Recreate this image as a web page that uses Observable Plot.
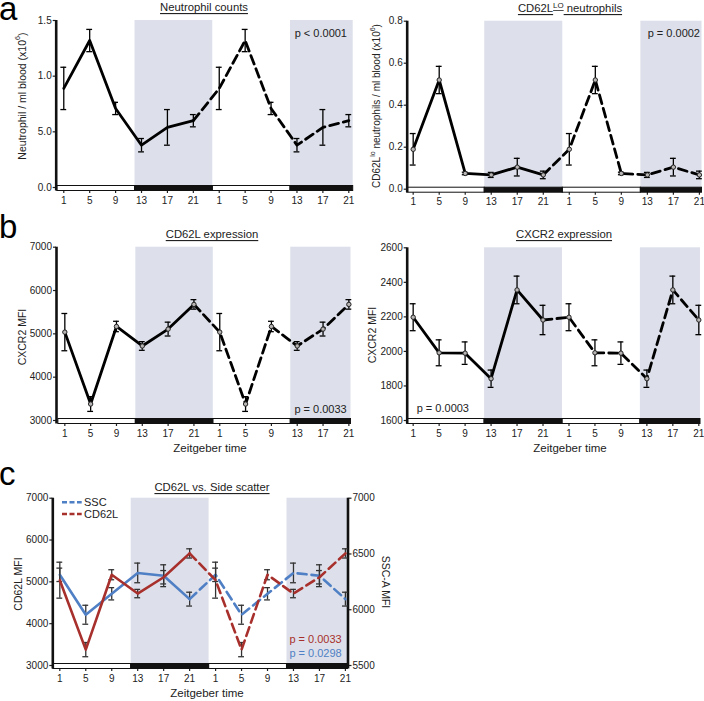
<!DOCTYPE html>
<html><head><meta charset="utf-8">
<script src="https://cdn.jsdelivr.net/npm/d3@7"></script>
<script src="https://cdn.jsdelivr.net/npm/@observablehq/plot@0.6"></script>
<style>
body{margin:0;background:#fff;font-family:"Liberation Sans",Arial,sans-serif;}
#root{position:relative;width:704px;height:701px;overflow:hidden;background:#fff;}
#root svg{position:absolute;}
.letter{position:absolute;left:-1px;font-size:33px;line-height:16px;height:16px;color:#000;font-family:"Liberation Sans",Arial,sans-serif;z-index:2;}
</style></head><body><div id="root"></div>
<script>
// ---------- data ----------
const ZT = [1, 5, 9, 13, 17, 21];
const dayOffsets = [0, 24];
const xTicks = [1, 5, 9, 13, 17, 21, 25, 29, 33, 37, 41, 45];
const xTickLabels = ["1", "5", "9", "13", "17", "21", "1", "5", "9", "13", "17", "21"];
const darkPhases = [{start: 12, end: 24}, {start: 36, end: 48}];
const lightPhases = [{start: 0, end: 12}, {start: 24, end: 36}];

// a: neutrophil counts (x10^6 / ml)
const neutMean = [0.89, 1.32, 0.71, 0.38, 0.54, 0.60];
const neutSem  = [0.19, 0.10, 0.055, 0.06, 0.16, 0.055];
const neutYTicks = [0, 0.5, 1.0, 1.5];
const neutYLabels = ["0.0", "5.0", "1.0", "1.5"];

// a: CD62L lo neutrophils
const loMean = [0.19, 0.52, 0.075, 0.068, 0.105, 0.068];
const loSem  = [0.075, 0.065, 0.006, 0.012, 0.042, 0.018];
const loYTicks = [0, 0.2, 0.4, 0.6, 0.8];
const loYLabels = ["0.0", "0.2", "0.4", "0.6", "0.8"];

// b: CD62L expression (MFI)
const cd62Mean = [5040, 3380, 5170, 4720, 5110, 5680];
const cd62Sem  = [430, 170, 120, 100, 160, 110];
const cd62YTicks = [3000, 4000, 5000, 6000, 7000];
const cd62YLabels = ["3000", "4000", "5000", "6000", "7000"];

// b: CXCR2 expression (MFI)
const cxcrMean = [2198, 1992, 1990, 1842, 2356, 2182];
const cxcrSem  = [78, 75, 65, 50, 80, 85];
const cxcrYTicks = [1600, 1800, 2000, 2200, 2400, 2600];
const cxcrYLabels = ["1600", "1800", "2000", "2200", "2400", "2600"];

// c: side scatter (SSC-A MFI)
const sscMean = [6313, 5955, 6143, 6330, 6305, 6095];
const sscSem  = [60, 85, 55, 88, 98, 62];
const sscYTicks = [5500, 6000, 6500, 7000];
const sscYLabels = ["5500", "6000", "6500", "7000"];

// panel letters
const panelLetters = [{letter: "a", top: 1.1}, {letter: "b", top: 218.6}, {letter: "c", top: 465.6}];

// ---------- helpers ----------
const FONT = "Liberation Sans, Arial, Helvetica, sans-serif";
const SHADE = "#dde0ea";
const BLUE = "#4f7fc4";
const RED = "#a8302c";
const root = document.getElementById("root");

function rowsOf(mean, sem, map = v => v, smap = v => v) {
  const rows = [];
  dayOffsets.forEach((off, di) => ZT.forEach((z, i) => rows.push({zt: z + off, m: map(mean[i]), s: smap(sem[i]), day: di})));
  return rows;
}

function seriesMarks(rows, {color = "#000", err = "#000", width = 2.8, dots = true, cap = 0.45} = {}) {
  const day1 = rows.filter(r => r.day === 0);
  const day2 = [day1[day1.length - 1], ...rows.filter(r => r.day === 1)];
  const m = [
    Plot.ruleX(rows, {x: "zt", y1: d => d.m - d.s, y2: d => d.m + d.s, stroke: err, strokeWidth: 1.3}),
    Plot.ruleY(rows, {y: d => d.m + d.s, x1: d => d.zt - cap, x2: d => d.zt + cap, stroke: err, strokeWidth: 1.3}),
    Plot.ruleY(rows, {y: d => d.m - d.s, x1: d => d.zt - cap, x2: d => d.zt + cap, stroke: err, strokeWidth: 1.3}),
    Plot.line(day1, {x: "zt", y: "m", stroke: color, strokeWidth: width}),
    Plot.line(day2, {x: "zt", y: "m", stroke: color, strokeWidth: width, strokeDasharray: "9,5"})
  ];
  if (dots) m.push(Plot.dot(rows, {x: "zt", y: "m", r: 2.2, fill: "#b9b5b5", stroke: "#222", strokeWidth: 1}));
  return m;
}

function panel(cfg) {
  const {left, top, width, height, frame, xDomain, yDomain, yTicks, yLabels, series, rightAxis} = cfg;
  const plotH = frame.b - frame.t;
  const upp = (yDomain[1] - yDomain[0]) / plotH;
  const barTop = yDomain[0] + 1.5 * upp, barBot = yDomain[0] - 3.5 * upp;
  const yFmt = new Map(yTicks.map((t, i) => [t, yLabels[i]]));
  const xFmt = new Map(xTicks.map((t, i) => [t, xTickLabels[i]]));
  const clampX1 = d => Math.max(d.start, xDomain[0]);
  const clampX2 = d => Math.min(d.end, xDomain[1]);
  const marks = [
    Plot.rect(darkPhases, {x1: clampX1, x2: clampX2, y1: yDomain[0], y2: yDomain[1], fill: SHADE}),
    Plot.axisX(xTicks, {tickFormat: d => xFmt.get(d), tickSize: 6, tickPadding: 3, fontSize: 10, label: null, strokeWidth: 1.2}),
    Plot.axisY(yTicks, {tickFormat: d => yFmt.get(d), tickSize: 3, tickPadding: 1.5, fontSize: 10, label: null, strokeWidth: 1.2}),
  ];
  if (rightAxis) {
    const rFmt = new Map(rightAxis.ticks.map((t, i) => [t, rightAxis.labels[i]]));
    marks.push(Plot.axisY(rightAxis.ticks, {anchor: "right", tickFormat: d => rFmt.get(d), tickSize: 3, tickPadding: 1.5, fontSize: 10, label: null, strokeWidth: 1.2}));
  }
  marks.push(
    Plot.rect(lightPhases, {x1: clampX1, x2: clampX2, y1: barBot, y2: barTop, fill: "#fff", stroke: "#111", strokeWidth: 1}),
    Plot.rect(darkPhases, {x1: clampX1, x2: clampX2, y1: barBot, y2: barTop, fill: "#111", stroke: "#111", strokeWidth: 1}),
    Plot.ruleX([xDomain[0]], {y1: barBot, y2: yDomain[1], strokeWidth: 2.6, stroke: "#111"})
  );
  if (rightAxis) marks.push(Plot.ruleX([xDomain[1]], {y1: barBot, y2: yDomain[1], strokeWidth: 2.6, stroke: "#111"}));
  marks.push(...series);
  const svg = Plot.plot({
    width, height,
    marginLeft: frame.l - left, marginRight: left + width - frame.r,
    marginTop: frame.t - top, marginBottom: top + height - frame.b,
    x: {type: "linear", domain: xDomain},
    y: {type: "linear", domain: yDomain},
    style: {fontFamily: FONT, fontSize: "10px", color: "#222", background: "transparent", overflow: "visible"},
    marks
  });
  svg.style.left = left + "px";
  svg.style.top = top + "px";
  root.appendChild(svg);
}

// ---------- panels ----------
panel({
  left: 0, top: 0, width: 360, height: 215,
  frame: {l: 55.7, r: 352.7, t: 20, b: 187},
  xDomain: [-0.17, 45.68], yDomain: [0, 1.5], yTicks: neutYTicks, yLabels: neutYLabels,
  series: seriesMarks(rowsOf(neutMean, neutSem), {dots: false})
});
panel({
  left: 350, top: 0, width: 354, height: 215,
  frame: {l: 406.7, r: 701.5, t: 20.7, b: 188.7},
  xDomain: [0.08, 45.4], yDomain: [0, 0.8], yTicks: loYTicks, yLabels: loYLabels,
  series: seriesMarks(rowsOf(loMean, loSem))
});
panel({
  left: 0, top: 230, width: 360, height: 215,
  frame: {l: 56, r: 350.5, t: 246.7, b: 420},
  xDomain: [-0.29, 45.33], yDomain: [3000, 7000], yTicks: cd62YTicks, yLabels: cd62YLabels,
  series: seriesMarks(rowsOf(cd62Mean, cd62Sem))
});
panel({
  left: 350, top: 230, width: 354, height: 215,
  frame: {l: 406.7, r: 700, t: 247.3, b: 420},
  xDomain: [0.08, 45.26], yDomain: [1600, 2600], yTicks: cxcrYTicks, yLabels: cxcrYLabels,
  series: seriesMarks(rowsOf(cxcrMean, cxcrSem))
});
// panel c: dual axis, SSC mapped onto the CD62L scale
const sscToLeft = v => 3000 + (v - 5500) * (4000 / 1500);
const sscSemToLeft = v => v * (4000 / 1500);
panel({
  left: 0, top: 460, width: 400, height: 230,
  frame: {l: 52.3, r: 347.5, t: 497.7, b: 665},
  xDomain: [-0.08, 45.4], yDomain: [3000, 7000], yTicks: cd62YTicks, yLabels: cd62YLabels,
  rightAxis: {ticks: sscYTicks.map(sscToLeft), labels: sscYLabels},
  series: [
    ...seriesMarks(rowsOf(sscMean, sscSem, sscToLeft, sscSemToLeft), {color: BLUE, err: "#333", width: 2.6, dots: false}),
    ...seriesMarks(rowsOf(cd62Mean, cd62Sem), {color: RED, err: "#333", width: 2.6, dots: false})
  ]
});

// ---------- text overlay ----------
const ov = d3.select(root).append("svg").attr("width", 704).attr("height", 701)
  .style("left", "0px").style("top", "0px").style("pointer-events", "none")
  .attr("font-family", FONT);

function txt(x, y, s, {size = 11, anchor = "middle", color = "#222", rotate = 0, underline = false, baseline = "central"} = {}) {
  const t = ov.append("text").attr("x", x).attr("y", y).attr("font-size", size)
    .attr("text-anchor", anchor).attr("fill", color).attr("dominant-baseline", baseline);
  if (rotate) t.attr("transform", `rotate(${rotate},${x},${y})`);
  if (underline) t.style("text-decoration", "underline");
  return t;
}
function withSup(t, parts, shift = "super") {
  parts.forEach(([s, sup]) => {
    const ts = t.append("tspan").text(s);
    if (sup) ts.attr("baseline-shift", shift).attr("font-size", "70%");
  });
}

// panel letters (HTML)
panelLetters.forEach(d => {
  const el = document.createElement("div");
  el.className = "letter";
  el.style.top = d.top + "px";
  el.textContent = d.letter;
  root.appendChild(el);
});

// titles
txt(204, 7, "", {size: 11.3, underline: true}).text("Neutrophil counts");
withSup(txt(570, 8, "", {size: 11.3, underline: true}), [["CD62L"], ["LO", true], [" neutrophils"]], "35%");
txt(212, 234, "", {size: 11.3, underline: true}).text("CD62L expression");
txt(564, 234, "", {size: 11.3, underline: true}).text("CXCR2 expression");
txt(212, 487, "", {size: 11.3, underline: true}).text("CD62L vs. Side scatter");

// y labels
withSup(txt(22, 96, "", {size: 10.5, rotate: -90}), [["Neutrophil / ml blood (x10"], ["6", true], [")"]]);
withSup(txt(376, 106, "", {size: 10, rotate: -90}), [["CD62L"], ["lo", true], [" neutrophils / ml blood (x10"], ["6", true], [")"]]);
txt(22, 337, "", {size: 10.5, rotate: -90}).text("CXCR2 MFI");
txt(372, 335, "", {size: 10.5, rotate: -90}).text("CXCR2 MFI");
txt(17.5, 584, "", {size: 10.5, rotate: -90}).text("CD62L MFI");
txt(386, 582, "", {size: 10.5, rotate: 90}).text("SSC-A MFI");

// x labels
txt(210, 448, "", {size: 11.5}).text("Zeitgeber time");
txt(570, 448, "", {size: 11.5}).text("Zeitgeber time");
txt(207, 693, "", {size: 11.5}).text("Zeitgeber time");

// p values
txt(347, 33.3, "", {size: 11, anchor: "end"}).text("p < 0.0001");
txt(700, 33.3, "", {size: 11, anchor: "end"}).text("p = 0.0002");
txt(346.7, 409, "", {size: 11, anchor: "end"}).text("p = 0.0033");
txt(416.7, 408.3, "", {size: 11, anchor: "start"}).text("p = 0.0003");
txt(341.7, 639, "", {size: 11, anchor: "end", color: RED}).text("p = 0.0033");
txt(341.7, 653.3, "", {size: 11, anchor: "end", color: BLUE}).text("p = 0.0298");

// legend (panel c)
const legend = [{label: "SSC", color: BLUE}, {label: "CD62L", color: RED}];
legend.forEach((d, i) => {
  const y = 502.3 + i * 11.7;
  ov.append("line").attr("x1", 62).attr("x2", 81.7).attr("y1", y).attr("y2", y)
    .attr("stroke", d.color).attr("stroke-width", 2.5).attr("stroke-dasharray", "5,2.5");
  txt(84, y, "", {size: 11, anchor: "start"}).text(d.label);
});
</script></body></html>
